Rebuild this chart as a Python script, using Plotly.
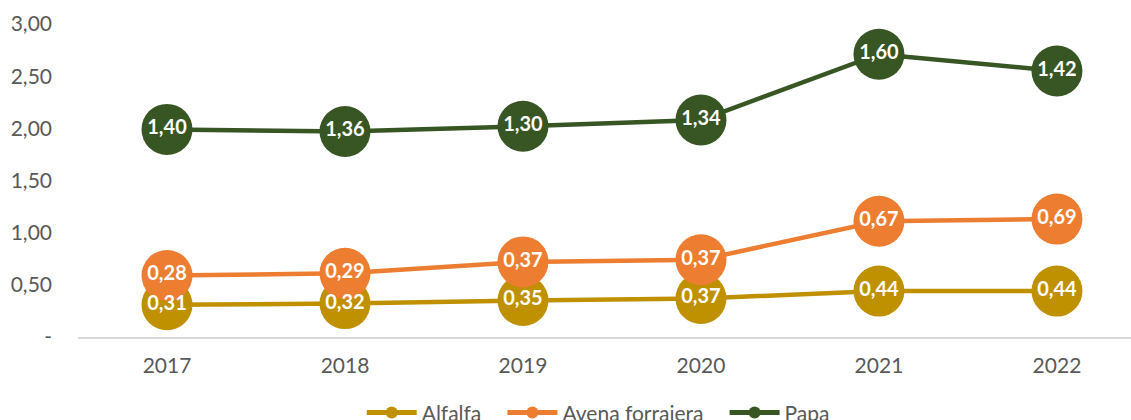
import plotly.graph_objects as go

years = ["2017", "2018", "2019", "2020", "2021", "2022"]
alfalfa = [0.31, 0.32, 0.35, 0.37, 0.44, 0.44]
avena = [0.28, 0.29, 0.37, 0.37, 0.67, 0.69]
papa = [1.40, 1.36, 1.30, 1.34, 1.60, 1.42]

series_names = ["Alfalfa", "Avena forrajera", "Papa"]
series_values = [alfalfa, avena, papa]
colors = ["#BF9000", "#ED7D31", "#375623"]

ytick_vals = [0, 0.5, 1.0, 1.5, 2.0, 2.5, 3.0]
ytick_text = ["-", "0,50", "1,00", "1,50", "2,00", "2,50", "3,00"]

fig = go.Figure()
# lines and markers (stacked)
for name, vals, col in zip(series_names, series_values, colors):
    fig.add_trace(go.Scatter(
        x=years, y=vals, name=name + "\u00a0\u00a0\u00a0", stackgroup="lines", fill="none",
        mode="lines+markers",
        line=dict(color=col, width=4.5),
        marker=dict(color=col, size=51),
        cliponaxis=False,
    ))
# data labels on top of everything (same stacking)
for name, vals in zip(series_names, series_values):
    fig.add_trace(go.Scatter(
        x=years, y=vals, name=name, stackgroup="labels", fill="none",
        mode="text", showlegend=False, hoverinfo="skip",
        line=dict(width=0),
        text=[f"{v:.2f}".replace(".", ",") for v in vals],
        textposition="middle center",
        textfont=dict(color="white", size=20, family="Lato", weight="bold"),
        cliponaxis=False,
    ))

fig.update_layout(
    width=1131, height=420,
    margin=dict(l=78, r=0, t=24, b=83),
    paper_bgcolor="white", plot_bgcolor="white",
    font=dict(family="Lato", color="#595959", size=21),
    showlegend=True,
    legend=dict(orientation="h", xref="container", yref="container",
                x=0.536, y=0.017, xanchor="center", yanchor="middle",
                itemwidth=50, itemsizing="constant",
                font=dict(size=21, color="#595959")),
)
fig.update_xaxes(type="category", range=[-0.5, 5.416], showgrid=False,
                 showline=True, linecolor="#D9D9D9", linewidth=2,
                 ticks="", ticklabelstandoff=9, zeroline=False,
                 automargin=False)
fig.update_yaxes(range=[0, 3.0], tickvals=ytick_vals, ticktext=ytick_text,
                 showgrid=False, zeroline=False, showline=False,
                 ticks="", ticklabelstandoff=25, automargin=False)

fig.write_html("out.html", config={"displayModeBar": False},
               post_script="document.body.style.margin='0';")
